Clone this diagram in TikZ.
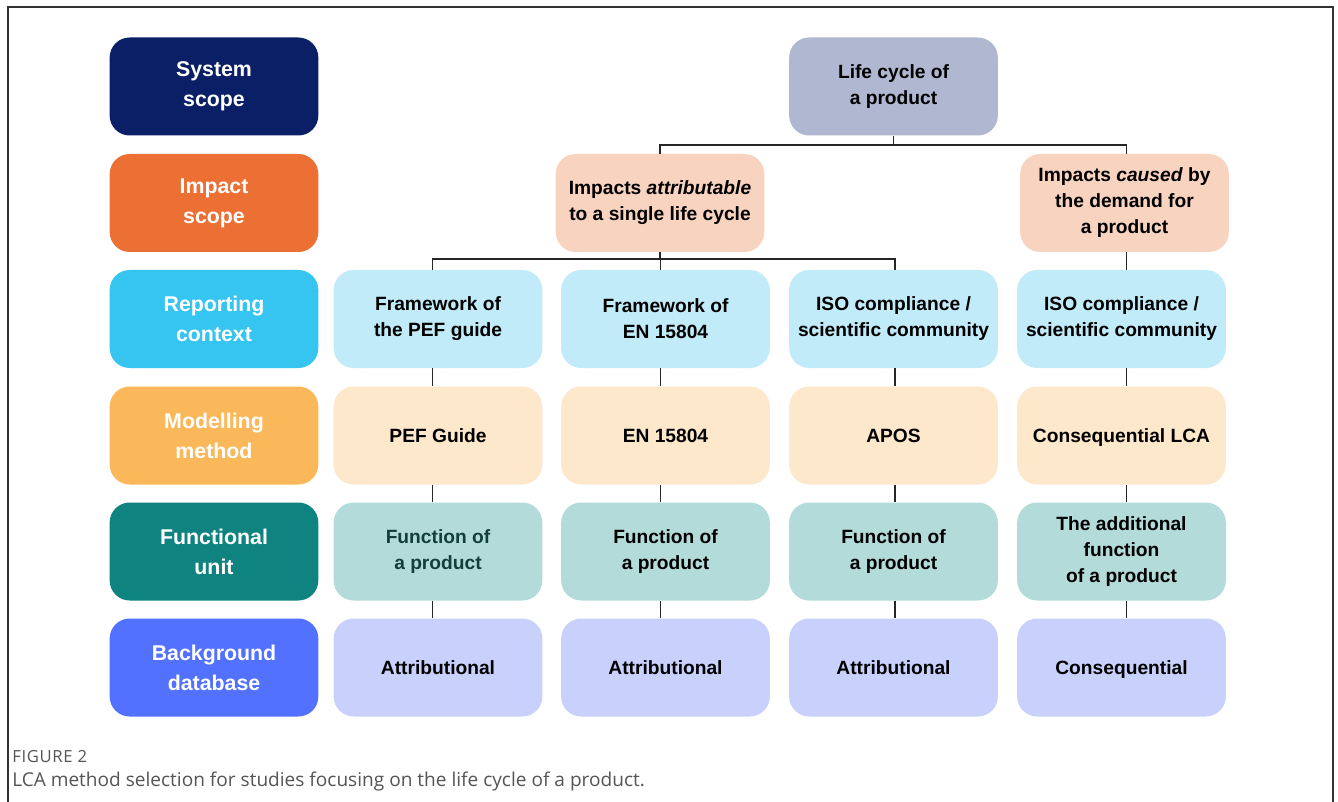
\documentclass[tikz,border=0pt]{standalone}
\usepackage{fontspec}
\usetikzlibrary{calc}
\setmainfont{Liberation Sans}
\newfontfamily\capfont{Open Sans}

% row-header colours
\definecolor{hSys}{HTML}{0B1F66}
\definecolor{hImp}{HTML}{EC6F33}
\definecolor{hRep}{HTML}{36C5F0}
\definecolor{hMod}{HTML}{FBB85A}
\definecolor{hFun}{HTML}{0E8380}
\definecolor{hBac}{HTML}{5271FF}
% cell colours
\definecolor{cLife}{HTML}{B0B8D1}
\definecolor{cImp}{HTML}{F8D3C0}
\definecolor{cRep}{HTML}{C1EBF8}
\definecolor{cMod}{HTML}{FDE8CB}
\definecolor{cFun}{HTML}{B3DBD9}
\definecolor{cBac}{HTML}{C8D1FC}
\definecolor{tealtext}{HTML}{123F3B}
\definecolor{capgray}{HTML}{555555}
\definecolor{framegray}{HTML}{333333}

\begin{document}
\begin{tikzpicture}[x=0.75pt,y=-0.75pt,
  box/.style={rounded corners=15pt, minimum width=156.5pt, minimum height=73.5pt,
    inner sep=0pt, align=center, draw=none},
  head/.style={box, text=white, font=\bfseries\fontsize{16}{22.5}\selectfont},
  cell/.style={box, text=black, font=\bfseries\fontsize{14.4}{19.5}\selectfont},
  link/.style={draw=black!85, line width=1.4pt},
  frameline/.style={draw=framegray, line width=1.1pt}]
\useasboundingbox (0,0) rectangle (1338,802);
\fill[white] (0,0) rectangle (1338,802);
\draw[frameline] (8,802) -- (8,7) -- (1333,7) -- (1333,802);

% row headers
\node[head, fill=hSys] (hsys) at (214,86.5) {System\\scope};
\node[head, fill=hImp] (himp) at (214,203) {Impact\\scope};
\node[head, fill=hRep] (hrep) at (214,319) {Reporting\\context};
\node[head, fill=hMod] (hmod) at (214,435.5) {Modelling\\method};
\node[head, fill=hFun] (hfun) at (214,551.5) {Functional\\unit};
\node[head, fill=hBac] (hbac) at (214,667.5) {Background\\database};

% system and impact scope
\node[cell, fill=cLife] (life) at (893.5,86.5) {Life cycle of\\a product};
\node[cell, fill=cImp] (attr) at (660,203) {Impacts \textit{attributable}\\to a single life cycle};
\node[cell, fill=cImp] (caus) at (1124.5,203) {Impacts \textit{caused} by\\the demand for\\a product};

% reporting context
\node[cell, fill=cRep] (r1) at (438,319) {Framework of\\the PEF guide};
\node[cell, fill=cRep] (r2) at (665.5,319) {Framework of\\EN 15804};
\node[cell, fill=cRep] (r3) at (893.5,319) {ISO compliance /\\scientific community};
\node[cell, fill=cRep] (r4) at (1121.5,319) {ISO compliance /\\scientific community};

% modelling method
\node[cell, fill=cMod] (m1) at (438,435.5) {PEF Guide};
\node[cell, fill=cMod] (m2) at (665.5,435.5) {EN 15804};
\node[cell, fill=cMod] (m3) at (893.5,435.5) {APOS};
\node[cell, fill=cMod, text depth=0pt] (m4) at (1121.5,435.5) {Consequential LCA};

% functional unit
\node[cell, fill=cFun, text=tealtext] (f1) at (438,551.5) {Function of\\a product};
\node[cell, fill=cFun] (f2) at (665.5,551.5) {Function of\\a product};
\node[cell, fill=cFun] (f3) at (893.5,551.5) {Function of\\a product};
\node[cell, fill=cFun] (f4) at (1121.5,551.5) {The additional\\function\\of a product};

% background database
\node[cell, fill=cBac] (b1) at (438,667.5) {Attributional};
\node[cell, fill=cBac] (b2) at (665.5,667.5) {Attributional};
\node[cell, fill=cBac] (b3) at (893.5,667.5) {Attributional};
\node[cell, fill=cBac, text depth=0pt] (b4) at (1121.5,667.5) {Consequential};

% vertical connector lines of each column
\coordinate (k1) at ($(r1.center)+(-5.5,0)$);
\coordinate (k2) at ($(r2.center)+(-5,0)$);
\coordinate (k3) at ($(r3.center)+(1.5,0)$);
\coordinate (k4) at ($(r4.center)+(5,0)$);

% tree connectors
\coordinate (busA) at (0,145);
\coordinate (busB) at (0,259);
\draw[link] (life.south) -- (life.south |- busA);
\draw[link] (attr.north) -- (attr.north |- busA) -| (k4 |- caus.north);
\draw[link] (attr.south) -- (attr.south |- busB);
\draw[link] (k1 |- r1.north) -- (k1 |- busB) -| (k3 |- r3.north);
\draw[link] (k2 |- r2.north) -- (k2 |- busB);
\draw[link] (k4 |- caus.south) -- (k4 |- r4.north);
\foreach \c in {1,2,3,4}{
  \draw[link] (k\c |- r\c.south) -- (k\c |- m\c.north);
  \draw[link] (k\c |- m\c.south) -- (k\c |- f\c.north);
  \draw[link] (k\c |- f\c.south) -- (k\c |- b\c.north);
}

% caption
\node[anchor=base west, inner sep=0pt, text=capgray, font=\capfont\fontsize{12.5}{14}\selectfont\addfontfeatures{LetterSpace=4}] (fig) at (12,762) {FIGURE 2};
\node[anchor=base west, inner sep=0pt, text=capgray, font=\capfont\fontsize{14.3}{16}\selectfont] (cap) at (12,786) {LCA method selection for studies focusing on the life cycle of a product.};
\end{tikzpicture}
\end{document}
